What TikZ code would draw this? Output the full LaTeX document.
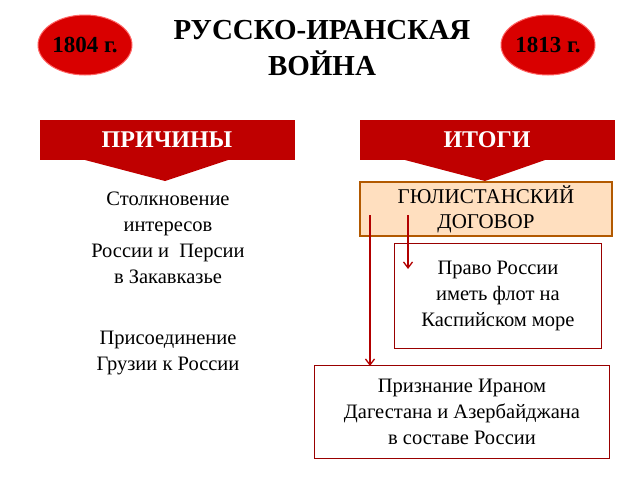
\documentclass[tikz,border=0pt]{standalone}
\usepackage{fontspec}
\setmainfont{Liberation Serif}
\begin{document}
\begin{tikzpicture}[x=1pt,y=-1pt,
  oval/.style={ellipse,fill=red!85!black,draw=red!60!white,line width=1pt,minimum width=94pt,minimum height=60pt,inner sep=0pt,font=\bfseries\fontsize{23}{23}\selectfont},
  banner/.style={fill=red!75!black,draw=none},
  btxt/.style={text=white,font=\bfseries\fontsize{24}{24}\selectfont},
  body/.style={align=center,font=\fontsize{20.5}{26}\selectfont},
  rbox/.style={draw=red!60!black,line width=1.5pt},
  arr/.style={red!70!black,line width=1.3pt,-{Straight Barb[length=6pt,width=9pt]}}]
\useasboundingbox (0,0) rectangle (640,480);
\usetikzlibrary{shapes.geometric,arrows.meta}
\node[oval] (y1) at (85,45) {1804 г.};
\node[oval] (y2) at (548,45) {1813 г.};
\node[align=center,font=\bfseries\fontsize{29}{36}\selectfont] (t) at (322,48) {РУССКО-ИРАНСКАЯ\\ВОЙНА};
\fill[banner] (40,120) rectangle (295,160);
\fill[banner] (85,160) -- (228,160) -- (165,181) -- cycle;
\node[btxt] (p) at (167,140) {ПРИЧИНЫ};
\fill[banner] (360,120) rectangle (615,160);
\fill[banner] (405,160) -- (545,160) -- (485,181) -- cycle;
\node[btxt] (i) at (487,140) {ИТОГИ};
\node[body] (c1) at (168,238) {Столкновение\\интересов\\России и~ Персии\\в Закавказье};
\node[body] (c2) at (168,353) {Присоединение\\Грузии к России};
\node[draw=orange!70!black,fill=orange!25!white,line width=1.3pt,minimum width=252pt,minimum height=52pt,align=center,font=\fontsize{21}{25}\selectfont] (g) at (486,209) {ГЮЛИСТАНСКИЙ\\ДОГОВОР};
\node[rbox,minimum width=207pt,minimum height=105pt,body] (b1) at (498,296) {Право России\\иметь флот на\\Каспийском море};
\node[rbox,minimum width=295pt,minimum height=93pt,body] (b2) at (462,412) {Признание Ираном\\Дагестана и Азербайджана\\в составе России};
\coordinate (s1) at (370,215); \coordinate (e1) at (370,366);
\coordinate (s2) at (408,215); \coordinate (e2) at (408,269);
\draw[arr] (s1) -- (e1);
\draw[arr] (s2) -- (e2);
\end{tikzpicture}
\end{document}
